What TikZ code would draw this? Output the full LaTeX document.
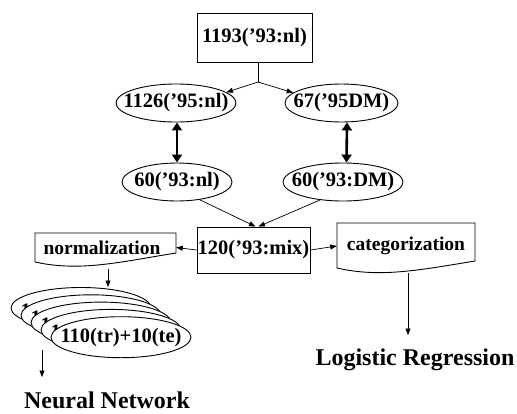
\documentclass[tikz,border=0pt]{standalone}
\usepackage{fontspec}
\setmainfont{Liberation Serif}
\usetikzlibrary{shapes.geometric,arrows.meta,calc}
% zero-width label so that the ellipse size is set by the style alone
\newcommand{\zw}[1]{\makebox[0pt]{#1}}
% label of a fold lying behind the next one, set a little lower
\newcommand{\zwlow}[1]{\makebox[0pt]{\raisebox{-9pt}[0pt][0pt]{#1}}}
\begin{document}
\begin{tikzpicture}[x=1pt,y=-1pt,
  lbl/.style={font=\fontsize{20.5}{24}\selectfont\bfseries},
  big/.style={font=\fontsize{24}{28}\selectfont\bfseries},
  box/.style={lbl,draw,line width=0.9pt,inner sep=0pt},
  ell/.style={lbl,ellipse,draw,line width=0.9pt,inner sep=0pt,minimum width=#1,minimum height=38pt},
  stk/.style={lbl,ellipse,draw,fill=white,line width=0.9pt,inner sep=0pt,minimum width=140pt,minimum height=41pt},
  arr/.style={line width=0.7pt,-{Triangle[length=6.5pt,width=5pt]}},
  dbl/.style={line width=2.6pt,{Triangle[length=8pt,width=10pt]}-{Triangle[length=8pt,width=10pt]}},
  wave/.style={draw,line width=0.9pt}
]
\useasboundingbox (0,0) rectangle (517,413);

% source and split
\node[box,minimum width=115pt,minimum height=49pt] (top) at (254.5,38) {1193('93:nl)};
\coordinate (j) at (258,82);

\node[ell=120pt] (A) at (176,103) {\zw{1126('95:nl)}};
\node[ell=113pt] (B) at (341.5,103) {\zw{67('95DM)}};
\node[ell=110pt] (C) at (177,182) {\zw{60('93:nl)}};
\node[ell=120pt] (D) at (343,182) {\zw{60('93:DM)}};

\draw[line width=0.7pt] ([xshift=3.5pt]top.south) -- (j);
\draw[arr] (j) -- (A.12);
\draw[arr] (j) -- (B.168);

\draw[dbl] ([xshift=1pt]A.south) -- (C.north);
\draw[dbl] ([xshift=5.5pt]B.south) -- ([xshift=3.5pt]D.north);

% merged set
\node[box,minimum width=113pt,minimum height=46pt] (mix) at (253.5,250) {120('93:mix)};
\draw[arr] (C.-38) -- ([xshift=2pt]mix.north);
\draw[arr] (D.-142) -- ([xshift=5pt]mix.north);

% document shapes
\path[wave] (35,233) -- (176,233) -- (176,253)
  .. controls (120,262) and (80,272) .. (35,262) -- cycle;
\node[lbl,font=\fontsize{19.5}{23}\selectfont\bfseries,minimum width=141pt,minimum height=29pt,inner sep=0pt] (norm) at (102,247.5) {normalization};

\path[wave] (337,223) -- (475,223) -- (475,261)
  .. controls (420,270) and (380,278) .. (337,268) -- cycle;
\node[lbl,font=\fontsize{19.5}{23}\selectfont\bfseries,minimum width=138pt,minimum height=30pt,inner sep=0pt] (cat) at (406,246) {categorization};

\draw[arr] (mix.west) -- ([xshift=3.5pt]norm.east);
\draw[arr] (mix.east) -- (cat.west);

% stacked data folds
\node[stk] (e1) at (81,308) {\zwlow{110(tr)+10(te)}};
\node[stk] (e2) at (91,315.3) {\zwlow{110(tr)+10(te)}};
\node[stk] (e3) at (101,322.6) {\zwlow{110(tr)+10(te)}};
\node[stk] (e4) at (111,329.9) {\zwlow{110(tr)+10(te)}};
\node[stk] (e5) at (121,337.2) {\zw{110(tr)+10(te)}};

\coordinate (nd) at (108,269);
\draw[arr] (nd) -- (nd |- e1.north);

% models
\node[big] (nn) at (107,400) {Neural Network};
\node[big] (lr) at (415,360) {Logistic Regression};
\coordinate (ns) at (42,350);
\coordinate (ne) at (42,377);
\draw[arr] (ns) -- (ne);
\coordinate (cs) at (408,273);
\coordinate (ce) at (408,335);
\draw[arr] (cs) -- (ce);
\end{tikzpicture}
\end{document}
